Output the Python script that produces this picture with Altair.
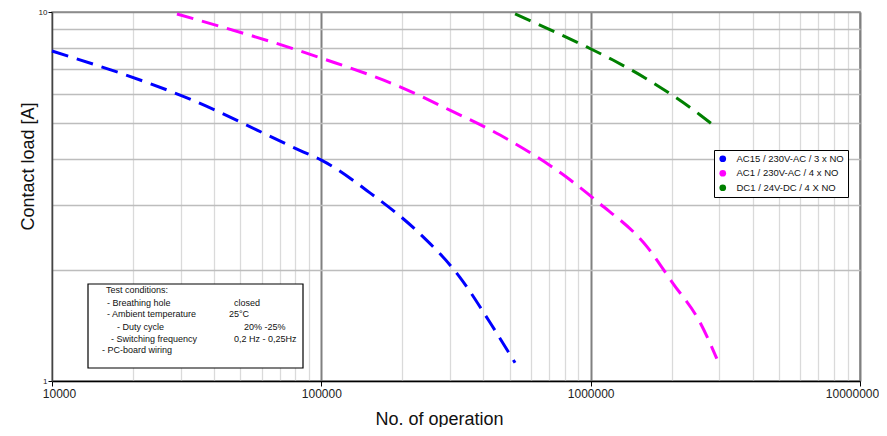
import altair as alt
import pandas as pd

# ---------------- data ----------------
series_names = ["AC15 / 230V-AC / 3 x NO", "AC1 / 230V-AC / 4 x NO", "DC1 / 24V-DC / 4 X NO"]
series_colors = ["#0000ff", "#ff00ff", "#008000"]

ac15_ops = [10000, 31200, 85500, 100000, 152000, 229000, 327000, 423000, 524000]
ac15_load = [7.84, 5.88, 4.18, 3.97, 3.23, 2.53, 1.91, 1.44, 1.12]

ac1_ops = [29100, 100000, 196000, 300000, 461000, 838000, 1060000, 1620000, 2020000, 2550000, 2940000]
ac1_load = [9.88, 7.5, 6.27, 5.42, 4.64, 3.51, 3.06, 2.31, 1.84, 1.44, 1.15]

dc1_ops = [524000, 968000, 1210000, 1710000, 2550000, 2940000]
dc1_load = [9.88, 8.04, 7.41, 6.42, 5.26, 4.85]

x_tick_values = [k * 10 ** e for e in (4, 5, 6) for k in range(1, 10)] + [10 ** 7]
y_tick_values = list(range(1, 11))

note_lines = [
    "Test conditions:",
    "- Breathing hole",
    "- Ambient temperature",
    "- Duty cycle",
    "- Switching frequency",
    "- PC-board wiring",
    "closed",
    "25°C",
    "20% -25%",
    "0,2 Hz - 0,25Hz",
]

# ---------------- layout (pixels, relative to plot area) ----------------
note_x = [54, 55, 55, 65, 59, 50, 182, 177, 192, 182]
note_y = [278, 291, 302, 315, 327, 338, 291, 302, 315, 327]
note_box = dict(x=36, x2=251, y=272, y2=356)

rows = []
for name, ops, load in [
    (series_names[0], ac15_ops, ac15_load),
    (series_names[1], ac1_ops, ac1_load),
    (series_names[2], dc1_ops, dc1_load),
]:
    for i, (o, l) in enumerate(zip(ops, load)):
        rows.append({"series": name, "ops": o, "load": l, "idx": i})
df = pd.DataFrame(rows)

FONT = "Liberation Sans"
DECADES = "indexof([10000, 100000, 1000000, 10000000], datum.value) >= 0"
MAJOR = "indexof([100000, 1000000, 10000000], datum.value) >= 0"

x_enc = alt.X(
    "ops:Q",
    scale=alt.Scale(type="log", domain=[10000, 10000000], nice=False),
    axis=alt.Axis(
        values=x_tick_values,
        format="d",
        labelExpr=DECADES + " ? datum.label : ''",
        labelOverlap=False,
        labelFlush=False,
        labelFont=FONT,
        labelFontSize=12,
        labelColor="#222",
        labelPadding=2,
        labelOffset={
            "condition": [
                {"test": "datum.value == 10000", "value": 7},
                {"test": "datum.value == 10000000", "value": -8},
            ],
            "value": 0,
        },
        tickSize=5,
        tickColor={"condition": {"test": DECADES, "value": "#000000"}, "value": "transparent"},
        grid=True,
        gridColor={"condition": {"test": MAJOR, "value": "#808080"}, "value": "#dadada"},
        gridWidth={"condition": {"test": MAJOR, "value": 2}, "value": 1.3},
        domainColor="#000000",
        domainWidth=1.5,
        title="No. of operation",
        titleFont=FONT,
        titleFontSize=18,
        titleFontWeight="normal",
        titleColor="#111",
        titleX=387,
        titleY=43,
        titleBaseline="alphabetic",
    ),
)

y_enc = alt.Y(
    "load:Q",
    scale=alt.Scale(type="log", domain=[1, 10], nice=False),
    axis=alt.Axis(
        values=y_tick_values,
        format="d",
        labelExpr="datum.value == 1 || datum.value == 10 ? datum.label : ''",
        labelOverlap=False,
        labelFlush=False,
        labelFont=FONT,
        labelFontSize=8,
        labelColor="#222",
        labelPadding=1,
        tickSize=4,
        tickColor={"condition": {"test": "datum.value == 1 || datum.value == 10", "value": "#000000"}, "value": "transparent"},
        grid=True,
        gridColor={"condition": {"test": "datum.value == 10", "value": "#8c8c8c"}, "value": "#bdbdbd"},
        gridWidth=1.3,
        domainColor="#444444",
        domainWidth=1.5,
        title="Contact load [A]",
        titleFont=FONT,
        titleFontSize=18,
        titleFontWeight="normal",
        titleColor="#111",
        titleX=-19,
        titleY=154,
        titleBaseline="alphabetic",
    ),
)

color_scale = alt.Scale(domain=series_names, range=series_colors)
legend = alt.Legend(
    title=None,
    orient="none",
    legendX=662,
    legendY=138,
    symbolType="circle",
    symbolSize=45,
    symbolStrokeWidth=0,
    symbolOpacity=1,
    labelFont=FONT,
    labelFontSize=9.5,
    labelColor="#111",
    labelOffset=9,
    labelLimit=300,
    rowPadding=3.5,
    padding=4,
    strokeColor="#000000",
    fillColor="#ffffff",
)

base = alt.Chart(df).encode(x=x_enc, y=y_enc, order=alt.Order("idx:Q"))

lines = base.mark_line(
    strokeDash=[17, 9], strokeWidth=3, interpolate="monotone", strokeCap="butt"
).encode(color=alt.Color("series:N", scale=color_scale, legend=legend))

pts = base.mark_point(filled=True, size=0, opacity=1).encode(
    color=alt.Color("series:N", scale=color_scale, legend=legend)
)

one = pd.DataFrame({"k": [0]})
box = alt.Chart(one).mark_rect(fill="white", stroke="black", strokeWidth=1.2).encode(
    x=alt.value(note_box["x"]),
    x2=alt.value(note_box["x2"]),
    y=alt.value(note_box["y"]),
    y2=alt.value(note_box["y2"]),
)

texts = []
for txt, px, py in zip(note_lines, note_x, note_y):
    texts.append(
        alt.Chart(one)
        .mark_text(align="left", baseline="middle", font=FONT, fontSize=9, color="#111")
        .encode(x=alt.value(px), y=alt.value(py), text=alt.value(txt))
    )

chart = (
    alt.layer(lines, pts, box, *texts)
    .properties(
        width=808,
        height=369,
        autosize=alt.AutoSizeParams(type="none"),
        padding={"left": 44, "top": 4, "right": 19, "bottom": 46},
    )
    .configure_view(stroke="#8c8c8c", strokeWidth=1.5)
)

chart.save("out.html", embed_options={"renderer": "svg", "actions": False})
